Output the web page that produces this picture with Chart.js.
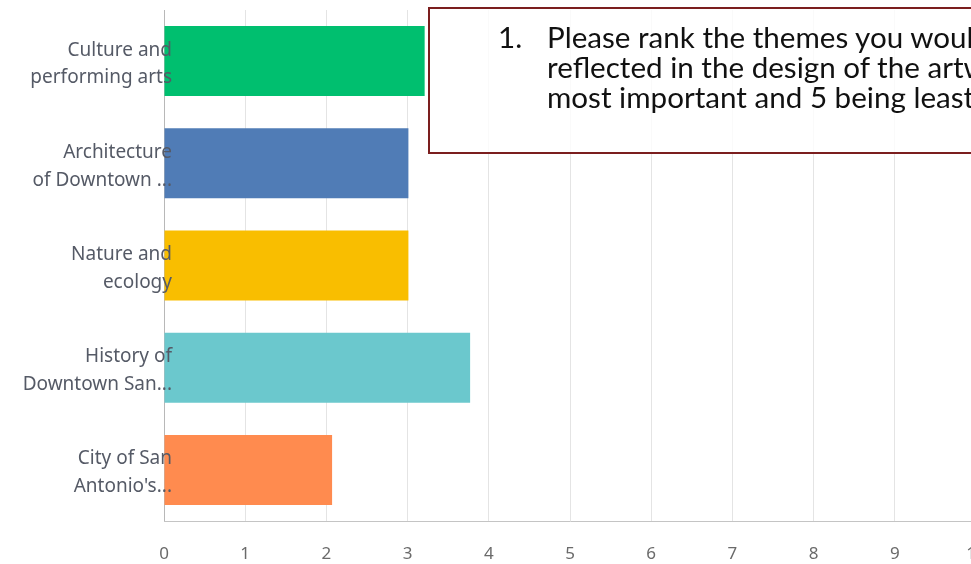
<!DOCTYPE html>
<html>
<head>
<meta charset="utf-8">
<script src="https://cdn.jsdelivr.net/npm/chart.js@4/dist/chart.umd.min.js"></script>
<style>
    html, body { margin: 0; padding: 0; background: #fff; overflow: hidden; width: 971px; height: 564px; }
    #rankChart { position: absolute; left: 0; top: 0; }
    #note {
        position: absolute; left: 428px; top: 7px; width: 700px; height: 143px;
        border: 2px solid #7b1e1e; background: rgba(255, 255, 255, 0.82);
        font-family: Lato, 'Noto Sans', sans-serif; font-size: 29.6px; color: #111;
        line-height: 30px; white-space: nowrap;
    }
    #note .num { position: absolute; left: 68px; top: 13px; }
    #note .txt { position: absolute; left: 117px; top: 13px; }
</style>
</head>
<body>
<canvas id="rankChart" width="990" height="564"></canvas>
<div id="note">
    <span class="num">1.</span>
    <div class="txt">Please rank the themes you would like to see<br>reflected in the design of the artwork, with 1 being<br>most important and 5 being least important.</div>
</div>
<script>
// Themes (labels as shown, truncated like the source)
const themes = [
    ['Culture and', 'performing arts'],
    ['Architecture', 'of Downtown ...'],
    ['Nature and', 'ecology'],
    ['History of', 'Downtown San...'],
    ['City of San', 'Antonio\'s...']
];
// Average ranking score per theme
const scores = [3.21, 3.01, 3.01, 3.77, 2.07];
const barColors = ['#00bf6f', '#507cb6', '#f9be00', '#6bc8cd', '#ff8b4f'];
const xTicks = [0, 1, 2, 3, 4, 5, 6, 7, 8, 9, 10];

const labelColor = '#555a66';

Chart.defaults.font.family = "'Noto Sans', sans-serif";

// no automatic label padding, the layout padding decides the plot area
function noPadding(scale) {
    scale.paddingTop = 0;
    scale.paddingBottom = 0;
    scale.paddingLeft = 0;
    scale.paddingRight = 0;
}

// Chart.js clips tick labels to the axis box, but here they run
// a little into the bars, so they are drawn after the datasets
const labelsOnTop = {
    id: 'labelsOnTop',
    afterDatasetsDraw(chart) {
        const ctx = chart.ctx;
        for (const item of chart.scales.y.getLabelItems()) {
            const o = item.options;
            const lines = Array.isArray(item.label) ? item.label : [item.label];
            ctx.save();
            ctx.translate(o.translation[0], o.translation[1] + 3);
            ctx.font = item.font.string;
            ctx.fillStyle = labelColor;
            ctx.textAlign = o.textAlign;
            ctx.textBaseline = o.textBaseline;
            lines.forEach((line, i) => {
                ctx.fillText(line, 0, item.textOffset + i * item.font.lineHeight);
            });
            ctx.restore();
        }
    }
};

new Chart(document.getElementById('rankChart'), {
    type: 'bar',
    data: {
        labels: themes,
        datasets: [{
            data: scores,
            backgroundColor: barColors,
            borderWidth: 0,
            categoryPercentage: 1,
            barPercentage: 0.685
        }]
    },
    options: {
        indexAxis: 'y',
        responsive: false,
        animation: false,
        layout: { padding: { top: 10, right: 14, bottom: 2, left: 0 } },
        plugins: {
            legend: { display: false },
            tooltip: { enabled: false }
        },
        scales: {
            x: {
                min: xTicks[0],
                max: xTicks[xTicks.length - 1],
                afterBuildTicks: (scale) => { scale.ticks = xTicks.map(v => ({ value: v })); },
                afterFit: (scale) => { noPadding(scale); scale.height = 41; },
                grid: {
                    color: (c) => c.index === 0 ? '#b8b8b8' : '#e4e4e4',
                    lineWidth: 1,
                    drawTicks: false
                },
                border: { color: '#c4c4c4', width: 1 },
                ticks: {
                    color: '#6a6a6a',
                    font: { size: 17 },
                    padding: 23
                }
            },
            y: {
                afterFit: (scale) => { noPadding(scale); scale.width = 164; },
                grid: { display: false, drawTicks: false },
                border: { display: false },
                ticks: {
                    color: 'rgba(0, 0, 0, 0)',
                    font: { size: 19, lineHeight: 1.47 },
                    padding: -8
                }
            }
        }
    },
    plugins: [labelsOnTop]
});
</script>
</body>
</html>
